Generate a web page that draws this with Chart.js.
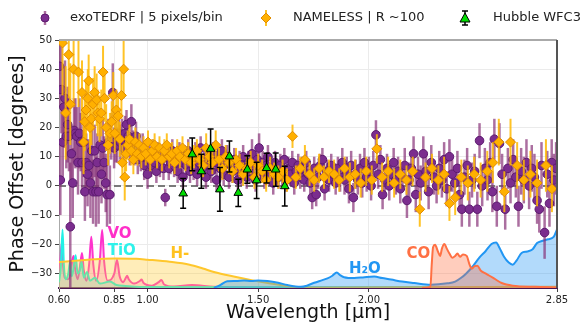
<!DOCTYPE html>
<html>
<head>
<meta charset="utf-8">
<script src="https://cdn.jsdelivr.net/npm/chart.js@4.4.1/dist/chart.umd.min.js"></script>
<style>
  html, body { margin: 0; padding: 0; background: #fff; overflow: hidden; }
</style>
</head>
<body>
<canvas id="chart" width="584" height="324"></canvas>
<script>
// ---- data ----
const xTicks = [0.60, 0.85, 1.00, 1.50, 2.00, 2.85];
const yTicks = [-30, -20, -10, 0, 10, 20, 30, 40, 50];

// exoTEDRF | 5 pixels/bin
const purpleWave = [0.602,0.606,0.611,0.617,0.622,0.627,0.633,0.639,0.645,0.651,0.656,0.662,0.668,0.674,0.680,0.686,0.692,0.698,0.704,0.711,
  0.717,0.723,0.729,0.735,0.742,0.748,0.754,0.761,0.767,0.773,0.779,0.786,0.792,0.798,0.804,0.811,0.817,0.823,0.830,0.836,
  0.843,0.849,0.856,0.863,0.870,0.877,0.884,0.891,0.898,0.905,0.913,0.920,0.927,0.934,0.941,0.948,0.956,0.963,0.970,0.978,
  0.985,0.993,1.000,1.008,1.016,1.024,1.032,1.040,1.048,1.056,1.064,1.072,1.080,1.088,1.096,1.104,1.112,1.120,1.128,1.136,
  1.144,1.152,1.160,1.168,1.176,1.184,1.192,1.200,1.208,1.216,1.224,1.232,1.240,1.248,1.256,1.264,1.272,1.280,1.288,1.296,
  1.304,1.312,1.320,1.328,1.336,1.344,1.352,1.360,1.368,1.376,1.384,1.392,1.400,1.408,1.416,1.424,1.432,1.440,1.448,1.456,
  1.464,1.472,1.480,1.488,1.496,1.504,1.512,1.520,1.528,1.536,1.544,1.552,1.560,1.568,1.576,1.584,1.592,1.600,1.609,1.618,
  1.627,1.636,1.645,1.654,1.663,1.672,1.681,1.690,1.699,1.708,1.717,1.726,1.735,1.744,1.753,1.762,1.771,1.780,1.790,1.800,
  1.810,1.820,1.830,1.840,1.850,1.860,1.870,1.880,1.890,1.900,1.910,1.920,1.930,1.940,1.950,1.960,1.970,1.980,1.990,2.000,
  2.010,2.020,2.032,2.042,2.052,2.062,2.072,2.082,2.092,2.102,2.112,2.122,2.132,2.142,2.152,2.162,2.172,2.182,2.192,2.202,
  2.212,2.222,2.234,2.246,2.258,2.270,2.282,2.294,2.306,2.318,2.330,2.340,2.352,2.364,2.376,2.388,2.400,2.410,2.420,2.432,
  2.444,2.454,2.466,2.478,2.490,2.500,2.512,2.524,2.536,2.548,2.558,2.567,2.578,2.590,2.602,2.616,2.628,2.640,2.652,2.664,
  2.676,2.688,2.700,2.712,2.724,2.736,2.748,2.760,2.770,2.780,2.794,2.806,2.816,2.826,2.836,2.846];
const purpleOffset = [41,2,33,15,27,30,17,21,17,-14,11,1,19,18,17,8,18,15,8,15,
  -2,8,4,7,1,12,-2,12,-2,8,-2,14,4,13,8,1,-3,15,-3,17,
  32,13,15,14,18,15,17,13,18,21,17,12,22,14,12,17,9,13,10,13,
  7,10,4,9,7,12,8,5,11,7,9,6,-4,10,6,8,12,7,9,5,
  11,8,3,10,7,12,5,9,6,11,4,8,13,6,9,3,10,7,5,11,
  8,2,9,6,12,4,8,10,3,7,5,9,6,2,8,4,10,6,3,8,
  5,11,7,2,9,13,5,8,3,7,10,4,6,1,8,5,3,7,4,9,
  2,6,4,8,1,5,7,3,6,2,8,4,1,-4,6,-3,3,7,9,-1,
  5,2,7,4,1,6,3,8,2,5,-1,7,-4,4,2,6,1,8,3,5,
  0,7,17.5,4,9,-3,2,6,0,4,8,2,5,-1,3,7,-5,2,6,11,
  -3,4,1,11,5,-2,8,3,0,6,2,9,-1,10,4,1,6,-3,-8,3,
  7,-8,2,5,-8,15.5,0,6,2,8,-2,16,-7,14.5,4,-8,6,1,9,3,
  -7,5,2,8,0,6,3,-5,-8,7,-16,4,-6,8,2,6];
const purpleErr = [14,12,15,12,14,13,11,13,12,22,10,12,11,12,10,11,12,10,11,12,
  10,10,11,9,12,10,11,9,12,10,11,9,10,10,9,10,11,8,10,8,
  10,7,7,6,6,6,6,6,6,5,6,5,6,5,5,5,5,5,5,5,
  5,5,5,5,4,4,4,4,4,4,4,4,3,4,4,4,4,4,4,4,
  4,4,4,4,4,4,4,4,4,4,4,4,4,4,4,4,4,4,4,4,
  4,4,4,4,4,4,4,4,4,4,4,4,4,4,4,4,4,4,4,4,
  4,5,4,4,5,5,4,4,4,4,4,4,4,4,4,4,4,4,4,4,
  4,4,4,4,4,4,4,4,4,4,4,4,4,4,4,4,4,4,4,4,
  4,4,4,4,4,4,5,5,5,5,5,5,5,5,5,5,5,5,5,5,
  5,5,5,5,5,5,5,5,5,5,5,5,5,5,5,6,6,6,6,6,
  6,6,6,6,6,6,6,6,6,6,6,6,6,6,6,6,6,6,6,6,
  6,6,6,6,6,6,7,7,7,7,7,7,7,7,7,7,7,7,7,7,
  7,8,8,8,8,8,8,8,8,8,9,8,8,8,9,9];

// NAMELESS | R ~100
const orangeWave = [0.616,0.630,0.644,0.651,0.666,0.688,0.704,0.711,0.716,0.722,0.730,0.734,
  0.740,0.746,0.754,0.761,0.770,0.775,0.783,0.791,0.799,0.806,0.813,0.822,0.830,0.838,0.845,0.852,0.859,0.867,0.875,0.882,
  0.886,0.892,0.897,0.903,0.910,0.918,0.927,0.936,0.945,0.954,0.963,0.972,0.982,0.992,1.002,1.012,1.022,1.032,1.043,1.054,
  1.065,1.076,1.087,1.098,1.110,1.122,1.134,1.146,1.158,1.171,1.184,1.197,1.210,1.223,1.237,1.251,1.265,1.279,1.293,1.308,
  1.323,1.338,1.353,1.368,1.384,1.400,1.416,1.432,1.449,1.466,1.483,1.500,1.518,1.536,1.554,1.572,1.591,1.610,1.630,1.655,
  1.670,1.690,1.711,1.732,1.753,1.775,1.797,1.820,1.843,1.866,1.890,1.914,1.938,1.963,1.988,2.013,2.036,2.060,2.087,2.114,
  2.142,2.170,2.198,2.230,2.256,2.285,2.314,2.340,2.364,2.390,2.418,2.447,2.476,2.505,2.535,2.560,2.587,2.612,2.640,2.670,
  2.700,2.730,2.760,2.800,2.827];
const orangeOffset = [49,25,45,28,40,39,32,15,22,26,30,36,
  20,23,28,32,29.5,25,23,25,39,30,20,14,18,22,31,18,26,24,16,31,
  8,40,3,11,14,16,12,9,15,11,14,10,13,11,15,9,12,14,10,13,
  9,12,14,10,11,8,12,10,13,9,11,8,10,12,9,7,13,10,8,14,
  9,6,10,8,5,9,7,4,6,8,3,7,5,2,6,4,3,5,2,17,
  3,6,9,4,2,6,3,5,4,2,6,3,4,1,5,2,12.7,3,5,1,
  4,2,5,-8,3,6,2,4,-6,-4,3,1,4,2,5,8,15,-2,15,7,
  2,4,1,7,-1];
const orangeErr = [18,16,15,14,13,12,11,11,10,10,10,9,
  9,9,9,9,9,8,8,8,9,8,8,7,7,7,8,7,7,7,6,8,
  6,10,8,6,5,5,5,5,5,4,4,4,4,4,4,4,4,4,4,4,
  4,4,4,4,4,4,4,4,4,4,4,4,4,4,4,4,5,4,4,5,
  4,4,4,4,4,4,4,4,4,4,4,4,4,4,4,4,4,4,4,4,
  4,4,5,4,4,5,4,4,5,4,4,5,5,5,5,5,5,5,5,5,
  5,5,5,6,5,5,5,6,6,6,6,6,6,6,7,7,8,7,8,8,
  7,8,8,9,8];

// Hubble WFC3
const hubbleWave = [1.161,1.202,1.243,1.285,1.327,1.370,1.410,1.451,1.493,1.538,1.579,1.620];
const hubbleOffset = [-2.6,10.8,5.0,12.7,-1.2,10.1,-2.4,5.6,1.9,6.1,5.6,-0.1];
const hubbleErr = [5.1,5.6,5.8,6.8,7.5,5.3,4.7,4.7,6.2,5.1,5.7,6.8];

// species contribution curves (plotted at the bottom of the panel)
const voWave = [0.600,0.606,0.612,0.618,0.626,0.640,0.652,0.660,0.666,0.672,0.684,0.694,0.704,0.712,0.724,0.736,0.746,0.755,0.768,0.784,
  0.795,0.804,0.820,0.850,0.862,0.874,0.890,0.902,0.908,0.915,0.940,0.965,0.973,0.982,1.020,1.050,1.063,1.075,1.120,1.200,1.300,1.500,2.850];
const voVals = [-31,-26,-19.6,-27,-31.5,-32,-30,-25.5,-24,-28,-32,-28,-23,-29,-32.5,-27,-17.4,-27,-32.5,-26,
  -15.1,-26,-32.5,-30,-25.3,-31,-33,-31.5,-30.8,-32,-33.5,-32.6,-32.1,-33.3,-34.2,-33,-32.3,-33.8,-34.5,-34,-34.6,-34.8,-34.8];
const tioWave = [0.600,0.608,0.616,0.622,0.630,0.642,0.650,0.658,0.668,0.675,0.684,0.694,0.702,0.712,0.726,0.740,0.762,0.785,0.830,0.860,0.900,1.000,2.850];
const tioVals = [-33,-28,-15,-27,-32,-30,-26,-31,-27,-23.8,-30,-29,-26,-31.5,-29.5,-32.5,-31.5,-33.5,-32.8,-34,-34.3,-34.7,-34.8];
const hminWave = [0.60,0.70,0.80,0.85,0.95,1.00,1.10,1.19,1.25,1.30,1.40,1.47,1.55,1.62,1.68,1.75,2.85];
const hminVals = [-26.1,-25.5,-25,-24.9,-25,-25.3,-26,-27,-28.3,-29.5,-31.2,-32.3,-33.4,-34.2,-34.7,-34.8,-34.6];
const h2oWave = [1.30,1.33,1.36,1.40,1.436,1.47,1.50,1.542,1.59,1.632,1.692,1.72,1.753,1.79,1.813,1.835,1.855,1.87,1.888,1.934,
  1.98,2.024,2.06,2.10,2.15,2.205,2.28,2.355,2.39,2.417,2.44,2.467,2.50,2.527,2.554,2.575,2.59,2.61,2.632,2.65,
  2.668,2.69,2.715,2.74,2.76,2.785,2.81,2.835,2.85];
const h2oVals = [-35,-33.9,-32.7,-32.6,-32.4,-32.6,-32.4,-32.6,-33.2,-34,-34.6,-34.2,-33.2,-32.3,-31.7,-30.8,-29.7,-30.6,-31.3,-31.6,
  -31.3,-31.1,-31.6,-32.1,-32.8,-33.3,-33.9,-33.4,-32.8,-31.5,-30,-27.8,-24.5,-22.4,-19.9,-19.4,-21.2,-24.2,-26.3,-27,
  -25.5,-23,-22.5,-21.7,-19.6,-18.8,-18.3,-17.5,-14.9];
const coWave = [2.24,2.278,2.284,2.290,2.299,2.312,2.322,2.330,2.341,2.352,2.364,2.377,2.390,2.400,2.412,2.425,2.442,2.455,2.465,2.478,
  2.490,2.505,2.527,2.545,2.567,2.600,2.650,2.750,2.850];
const coVals = [-35,-34.6,-27,-21,-20.2,-22.5,-24,-21.5,-19.9,-21.5,-23.2,-24.6,-24,-23.2,-24.3,-23.5,-24,-27,-28.4,-27.5,
  -27.4,-29,-30,-30.8,-31.8,-33.3,-34.2,-34.6,-34.8];

const zeroLine = [0.60, 2.85];

// text labels placed in data coordinates
const speciesLabels = [
  { text: 'VO',  x: 0.819, y: -16.5, color: '#ff2ec8' },
  { text: 'TiO', x: 0.820, y: -22.4, color: '#2ef2ea' },
  { text: 'H-',  x: 1.104, y: -23.5, color: '#ffc21f' },
  { text: 'H\u2082O', x: 1.910, y: -28.4, color: '#2196f3' },
  { text: 'CO',  x: 2.170, y: -23.3, color: '#ff7043' }
];

const legendItems = [
  { label: 'exoTEDRF | 5 pixels/bin', kind: 'purple', mx: 45, tx: 70 },
  { label: 'NAMELESS | R ~100', kind: 'orange', mx: 266, tx: 293 },
  { label: 'Hubble WFC3', kind: 'hubble', mx: 465, tx: 493 }
];

function pts(xs, ys) { return xs.map((x, i) => ({ x: x, y: ys[i] })); }

const PURPLE = '#7b2d8e', PURPLE_EDGE = '#5c1a6e', PURPLE_ERR = 'rgba(135,50,120,0.7)';
const ORANGE = '#ffb000', ORANGE_EDGE = '#e08c00', ORANGE_ERR = 'rgba(255,185,0,0.85)';

function curve(label, xs, ys, color, fillColor, order) {
  return {
    type: 'line', label: label, data: pts(xs, ys),
    borderColor: color, backgroundColor: fillColor, borderWidth: 2,
    pointRadius: 0, fill: { value: -35 }, cubicInterpolationMode: 'monotone', order: order
  };
}

const errorBars = {
  id: 'errorBars',
  beforeDatasetDraw(chart, args) {
    const ds = chart.data.datasets[args.index];
    if (!ds.errors) return;
    const { ctx, chartArea: a, scales: { x, y } } = chart;
    ctx.save();
    ctx.beginPath();
    ctx.rect(a.left, a.top, a.right - a.left, a.bottom - a.top);
    ctx.clip();
    ctx.strokeStyle = ds.errorColor;
    ctx.lineWidth = ds.errorWidth;
    ds.data.forEach((p, i) => {
      const px = x.getPixelForValue(p.x);
      const y1 = y.getPixelForValue(p.y - ds.errors[i]);
      const y2 = y.getPixelForValue(p.y + ds.errors[i]);
      ctx.beginPath();
      ctx.moveTo(px, y1); ctx.lineTo(px, y2);
      if (ds.capSize) {
        ctx.moveTo(px - ds.capSize, y1); ctx.lineTo(px + ds.capSize, y1);
        ctx.moveTo(px - ds.capSize, y2); ctx.lineTo(px + ds.capSize, y2);
      }
      ctx.stroke();
    });
    ctx.restore();
  }
};

function marker(ctx, kind, x, y) {
  ctx.save();
  if (kind === 'purple') {
    ctx.strokeStyle = PURPLE_ERR; ctx.lineWidth = 2.5;
    ctx.beginPath(); ctx.moveTo(x, y - 7); ctx.lineTo(x, y + 7); ctx.stroke();
    ctx.fillStyle = PURPLE; ctx.strokeStyle = PURPLE_EDGE; ctx.lineWidth = 1;
    ctx.beginPath(); ctx.arc(x, y, 4, 0, Math.PI * 2); ctx.fill(); ctx.stroke();
  } else if (kind === 'orange') {
    ctx.strokeStyle = ORANGE_ERR; ctx.lineWidth = 2;
    ctx.beginPath(); ctx.moveTo(x, y - 8); ctx.lineTo(x, y + 8); ctx.stroke();
    ctx.fillStyle = ORANGE; ctx.strokeStyle = ORANGE_EDGE; ctx.lineWidth = 1;
    ctx.beginPath(); ctx.moveTo(x, y - 5); ctx.lineTo(x + 5, y); ctx.lineTo(x, y + 5); ctx.lineTo(x - 5, y); ctx.closePath();
    ctx.fill(); ctx.stroke();
  } else {
    ctx.strokeStyle = '#000'; ctx.lineWidth = 1.5;
    ctx.beginPath();
    ctx.moveTo(x, y - 7); ctx.lineTo(x, y + 7);
    ctx.moveTo(x - 3, y - 7); ctx.lineTo(x + 3, y - 7);
    ctx.moveTo(x - 3, y + 7); ctx.lineTo(x + 3, y + 7);
    ctx.stroke();
    ctx.fillStyle = '#00dd00'; ctx.lineWidth = 1;
    ctx.beginPath(); ctx.moveTo(x, y - 5); ctx.lineTo(x + 5, y + 4); ctx.lineTo(x - 5, y + 4); ctx.closePath();
    ctx.fill(); ctx.stroke();
  }
  ctx.restore();
}

const decorations = {
  id: 'decorations',
  afterDatasetsDraw(chart) {
    const { ctx, chartArea: a, scales: { x, y } } = chart;
    ctx.save();
    ctx.font = 'bold 15px "DejaVu Sans"';
    ctx.textBaseline = 'middle';
    ctx.textAlign = 'left';
    speciesLabels.forEach(l => {
      ctx.fillStyle = l.color;
      ctx.fillText(l.text, x.getPixelForValue(l.x), y.getPixelForValue(l.y));
    });
    // top and right frame
    ctx.strokeStyle = '#aaaaaa'; ctx.lineWidth = 2;
    ctx.beginPath(); ctx.moveTo(a.left, a.top); ctx.lineTo(a.right, a.top); ctx.stroke();
    ctx.strokeStyle = '#555555';
    ctx.beginPath(); ctx.moveTo(a.right, a.top); ctx.lineTo(a.right, a.bottom); ctx.stroke();
    ctx.restore();
  },
  afterDraw(chart) {
    const ctx = chart.ctx;
    ctx.save();
    ctx.font = '13px "DejaVu Sans"';
    ctx.textBaseline = 'middle';
    legendItems.forEach(it => {
      marker(ctx, it.kind, it.mx, 18);
      ctx.fillStyle = '#222';
      ctx.fillText(it.label, it.tx, 18);
    });
    ctx.restore();
  }
};

new Chart(document.getElementById('chart'), {
  type: 'scatter',
  data: {
    datasets: [
      {
        label: 'Hubble WFC3', data: pts(hubbleWave, hubbleOffset), errors: hubbleErr,
        errorColor: '#000', errorWidth: 1.5, capSize: 3,
        pointStyle: 'triangle', pointRadius: 5, backgroundColor: '#00dd00', borderColor: '#000', borderWidth: 1, order: 0
      },
      {
        label: 'NAMELESS | R ~100', data: pts(orangeWave, orangeOffset), errors: orangeErr,
        errorColor: ORANGE_ERR, errorWidth: 2,
        pointStyle: 'rectRot', pointRadius: 5, backgroundColor: ORANGE, borderColor: ORANGE_EDGE, borderWidth: 1, order: 1
      },
      {
        label: 'exoTEDRF | 5 pixels/bin', data: pts(purpleWave, purpleOffset), errors: purpleErr,
        errorColor: PURPLE_ERR, errorWidth: 2.5,
        pointStyle: 'circle', pointRadius: 4.3, backgroundColor: PURPLE, borderColor: PURPLE_EDGE, borderWidth: 1, order: 2
      },
      {
        type: 'line', label: 'zero', data: pts(zeroLine, [0, 0]),
        borderColor: '#7a7a7a', borderWidth: 2, borderDash: [7, 4], pointRadius: 0, fill: false, order: 3
      },
      curve('CO', coWave, coVals, '#ff7043', 'rgba(255,112,67,0.35)', 4),
      curve('H2O', h2oWave, h2oVals, '#2196f3', 'rgba(33,150,243,0.35)', 5),
      curve('H-', hminWave, hminVals, '#ffc72c', 'rgba(255,199,44,0.33)', 6),
      curve('TiO', tioWave, tioVals, '#22f0e6', 'rgba(0,235,228,0.2)', 7),
      curve('VO', voWave, voVals, '#ff33cc', 'rgba(255,51,204,0.2)', 8)
    ]
  },
  options: {
    responsive: false,
    animation: false,
    devicePixelRatio: 1,
    layout: { padding: { top: 40, right: 27, left: 0, bottom: 0 } },
    plugins: { legend: { display: false }, tooltip: { enabled: false } },
    scales: {
      x: {
        type: 'linear', min: 0.6, max: 2.85,
        afterBuildTicks: s => { s.ticks = xTicks.map(v => ({ value: v })); },
        afterFit: s => { s.height = 36; },
        ticks: { callback: v => v.toFixed(2), font: { family: 'DejaVu Sans', size: 10 }, color: '#222', padding: 2, maxRotation: 0 },
        grid: { color: '#ebebeb', tickColor: '#444', tickLength: 4 },
        border: { color: '#4b1550', width: 2 },
        title: { display: true, text: 'Wavelength [\u03bcm]', font: { family: 'DejaVu Sans', size: 19 }, color: '#111', padding: { top: 0, bottom: 0 } }
      },
      y: {
        type: 'linear', min: -35, max: 50,
        afterBuildTicks: s => { s.ticks = yTicks.map(v => ({ value: v })); },
        afterFit: s => { s.width = 59; },
        ticks: { callback: v => (v < 0 ? '\u2212' + Math.abs(v) : String(v)), font: { family: 'DejaVu Sans', size: 10 }, color: '#222', padding: 3 },
        grid: { color: '#ebebeb', tickColor: '#444', tickLength: 4 },
        border: { color: '#aaaaaa', width: 1 },
        title: { display: true, text: 'Phase Offset [degrees]', font: { family: 'DejaVu Sans', size: 19 }, color: '#111', padding: { top: 7, bottom: 0 } }
      }
    }
  },
  plugins: [errorBars, decorations]
});
</script>
</body>
</html>
